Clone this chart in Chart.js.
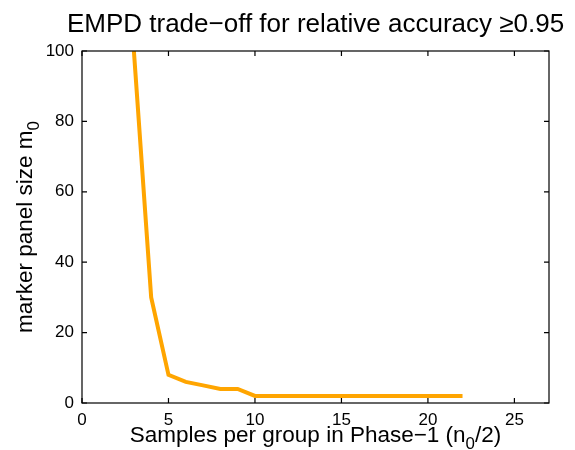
<!DOCTYPE html>
<html>
<head>
<meta charset="utf-8">
<script src="https://cdn.jsdelivr.net/npm/chart.js@4.4.1/dist/chart.umd.min.js"></script>
<style>
  body { margin: 0; background: #fff; }
</style>
</head>
<body>
<canvas id="tradeoff" width="575" height="450"></canvas>
<script>
// samples per group (n0/2) and the matching marker panel size m0
const samplesPerGroup = [3, 4, 5, 6, 7, 8, 9, 10, 11, 12, 13, 14, 15, 16, 17, 18, 19, 20, 21, 22];
const panelSize = [100, 30, 8, 6, 5, 4, 4, 2, 2, 2, 2, 2, 2, 2, 2, 2, 2, 2, 2, 2];

const xRange = [0, 27];
const yRange = [0, 100];
const xStep = 5;
const yStep = 20;

const FONT = '"Liberation Sans", Arial, Helvetica, sans-serif';

// text with one subscript part, centred on the origin
function drawParts(ctx, parts, size) {
    let w = 0;
    parts.forEach(p => {
        ctx.font = (p.sub ? size * 0.75 : size) + 'px ' + FONT;
        p.w = ctx.measureText(p.t).width;
        w += p.w;
    });
    let x = -w / 2;
    parts.forEach(p => {
        ctx.font = (p.sub ? size * 0.75 : size) + 'px ' + FONT;
        ctx.fillText(p.t, x, p.sub ? size * 0.3 : 0);
        x += p.w;
    });
}

const boxAndText = {
    id: 'boxAndText',
    afterDatasetsDraw(chart) {
        const { ctx, chartArea: a, scales: { x, y } } = chart;
        ctx.save();
        ctx.strokeStyle = '#000';
        ctx.lineWidth = 1.2;
        ctx.strokeRect(a.left, a.top, a.right - a.left, a.bottom - a.top);
        ctx.beginPath();
        x.ticks.forEach(t => {
            const px = x.getPixelForValue(t.value);
            ctx.moveTo(px, a.bottom); ctx.lineTo(px, a.bottom - 5);
            ctx.moveTo(px, a.top); ctx.lineTo(px, a.top + 5);
        });
        y.ticks.forEach(t => {
            const py = y.getPixelForValue(t.value);
            ctx.moveTo(a.left, py); ctx.lineTo(a.left + 5, py);
            ctx.moveTo(a.right, py); ctx.lineTo(a.right - 5, py);
        });
        ctx.stroke();

        const cx = (a.left + a.right) / 2;
        ctx.fillStyle = '#000';
        ctx.textBaseline = 'alphabetic';
        ctx.textAlign = 'left';

        // title
        ctx.save();
        ctx.translate(cx, 32);
        drawParts(ctx, [{ t: 'EMPD trade\u2212off for relative accuracy \u22650.95' }], 26);
        ctx.restore();

        // x axis title
        ctx.save();
        ctx.translate(cx, 442);
        drawParts(ctx, [{ t: 'Samples per group in Phase\u22121 (n' }, { t: '0', sub: true }, { t: '/2)' }], 22.5);
        ctx.restore();

        // y axis title
        ctx.save();
        ctx.translate(32, 227);
        ctx.rotate(-Math.PI / 2);
        drawParts(ctx, [{ t: 'marker panel size m' }, { t: '0', sub: true }], 22.5);
        ctx.restore();

        ctx.restore();
    }
};

new Chart(document.getElementById('tradeoff'), {
    type: 'scatter',
    data: {
        datasets: [{
            data: samplesPerGroup.map((s, i) => ({ x: s, y: panelSize[i] })),
            showLine: true,
            borderColor: '#ffa500',
            borderWidth: 4,
            pointRadius: 0,
            fill: false
        }]
    },
    options: {
        responsive: false,
        animation: false,
        layout: { padding: { top: 51, right: 26, left: 0, bottom: 0 } },
        plugins: { legend: { display: false }, tooltip: { enabled: false } },
        scales: {
            x: {
                min: xRange[0], max: xRange[1],
                grid: { display: false, drawTicks: false },
                border: { display: false },
                ticks: {
                    stepSize: xStep, includeBounds: false, padding: 7,
                    color: '#000', font: { family: FONT, size: 17 }, maxRotation: 0
                },
                afterFit(s) { s.height = 47; }
            },
            y: {
                min: yRange[0], max: yRange[1],
                grid: { display: false, drawTicks: false },
                border: { display: false },
                ticks: {
                    stepSize: yStep, includeBounds: false, padding: 8,
                    color: '#000', font: { family: FONT, size: 17 }
                },
                afterFit(s) { s.width = 82; }
            }
        }
    },
    plugins: [boxAndText]
});
</script>
</body>
</html>
